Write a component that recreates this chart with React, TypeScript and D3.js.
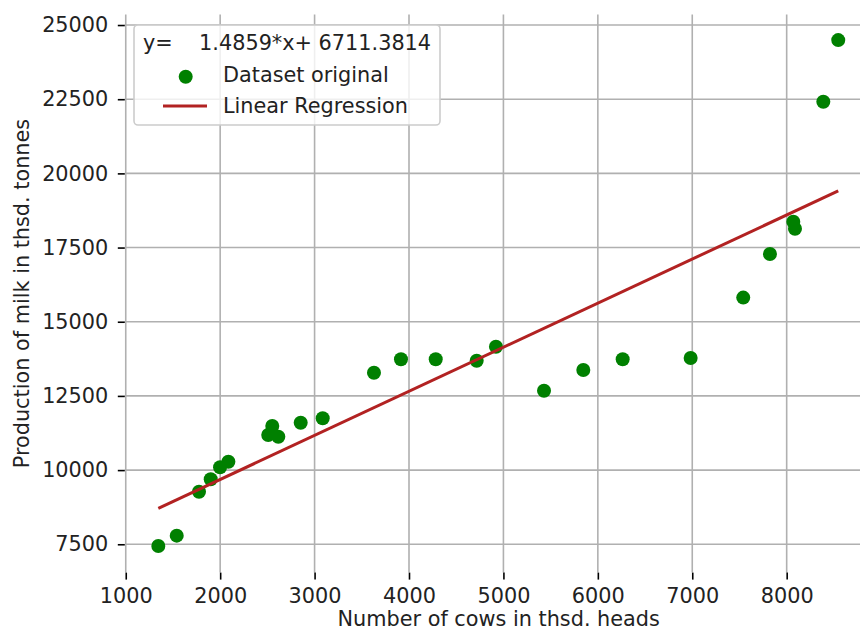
import { useEffect, useRef } from 'react';
import * as d3 from 'd3';

// number of cows (thsd. heads)
const cows = [
  1345, 1540, 1776, 1900, 1999, 2087, 2509, 2552, 2616, 2853, 3086, 3629, 3915,
  4283, 4717, 4921, 5430, 5846, 6263, 6983, 7540, 7823, 8070, 8088, 8388, 8546,
];
// production of milk (thsd. tonnes)
const milk = [
  7440, 7790, 9270, 9690, 10095, 10283, 11183, 11486, 11126, 11598, 11746, 13283, 13734,
  13734, 13687, 14159, 12676, 13373, 13734, 13778, 15813, 17282, 18370, 18135, 22415, 24493,
];

const slope = 1.4859;
const intercept = 6711.3814;

const xTicks = [1000, 2000, 3000, 4000, 5000, 6000, 7000, 8000];
const yTicks = [7500, 10000, 12500, 15000, 17500, 20000, 22500, 25000];

const legendTitle = 'y=    1.4859*x+ 6711.3814';
const legendLabels = ['Dataset original', 'Linear Regression'];

const FONT = '"DejaVu Sans", sans-serif';
const FS = 20.8;

const Chart = ({ width = 860, height = 632 }) => {
  const svgRef = useRef<SVGSVGElement | null>(null);

  useEffect(() => {
    const svg = d3.select(svgRef.current);
    svg.selectAll('*').remove();

    const left = 124.8;
    const right = 872.6;
    const top = 14.5;
    const bottom = 572.6;

    const x = d3.scaleLinear().domain([990, 8910]).range([left, right]);
    const y = d3.scaleLinear().domain([6545, 25355]).range([bottom, top]);

    const points = cows.map((c, i) => ({ x: c, y: milk[i] }));

    // grid
    const grid = svg.append('g');
    grid.selectAll('.vgrid')
      .data(xTicks)
      .enter()
      .append('line')
      .attr('x1', d => x(d))
      .attr('x2', d => x(d))
      .attr('y1', top)
      .attr('y2', bottom)
      .attr('stroke', '#b0b0b0')
      .attr('stroke-width', 1.6);
    grid.selectAll('.hgrid')
      .data(yTicks)
      .enter()
      .append('line')
      .attr('x1', left)
      .attr('x2', right)
      .attr('y1', d => y(d))
      .attr('y2', d => y(d))
      .attr('stroke', '#b0b0b0')
      .attr('stroke-width', 1.6);

    // scatter
    svg.append('g')
      .selectAll('circle')
      .data(points)
      .enter()
      .append('circle')
      .attr('cx', d => x(d.x))
      .attr('cy', d => y(d.y))
      .attr('r', 7)
      .attr('fill', 'green');

    // regression line
    const [xmin, xmax] = d3.extent(cows) as [number, number];
    const line = d3.line<number>()
      .x(d => x(d))
      .y(d => y(slope * d + intercept));
    svg.append('path')
      .datum([xmin, xmax])
      .attr('d', line)
      .attr('fill', 'none')
      .attr('stroke', '#b22222')
      .attr('stroke-width', 3);

    // axes
    const xAxis = svg.append('g')
      .attr('transform', `translate(0,${bottom})`)
      .call(d3.axisBottom(x).tickValues(xTicks).tickSizeInner(7).tickSizeOuter(0).tickPadding(8.6).tickFormat(d3.format('d')));
    const yAxis = svg.append('g')
      .attr('transform', `translate(${left},0)`)
      .call(d3.axisLeft(y).tickValues(yTicks).tickSizeInner(7).tickSizeOuter(0).tickPadding(9.5).tickFormat(d3.format('d')));

    [xAxis, yAxis].forEach(a => {
      a.select('.domain').remove();
      a.selectAll('.tick line').attr('stroke', '#000').attr('stroke-width', 1.6);
      a.selectAll('.tick text')
        .style('font-family', FONT)
        .style('font-size', `${FS}px`)
        .attr('fill', '#222');
    });

    // axis labels
    svg.append('text')
      .attr('x', (left + right) / 2)
      .attr('y', 626)
      .attr('text-anchor', 'middle')
      .style('font-family', FONT)
      .style('font-size', `${FS}px`)
      .attr('fill', '#222')
      .text('Number of cows in thsd. heads');

    svg.append('text')
      .attr('transform', `translate(29,${(top + bottom) / 2}) rotate(-90)`)
      .attr('text-anchor', 'middle')
      .style('font-family', FONT)
      .style('font-size', `${FS}px`)
      .attr('fill', '#222')
      .text('Production of milk in thsd. tonnes');

    // legend
    const lg = svg.append('g');
    lg.append('rect')
      .attr('x', 134)
      .attr('y', 25)
      .attr('width', 306)
      .attr('height', 100)
      .attr('rx', 4)
      .attr('fill', 'white')
      .attr('fill-opacity', 0.8)
      .attr('stroke', '#cccccc')
      .attr('stroke-width', 1.6);
    lg.append('text')
      .attr('x', 287)
      .attr('y', 50)
      .attr('text-anchor', 'middle')
      .style('font-family', FONT)
      .style('font-size', `${FS}px`)
      .style('white-space', 'pre')
      .attr('fill', '#222')
      .text(legendTitle);
    lg.append('circle')
      .attr('cx', 185.7)
      .attr('cy', 76.7)
      .attr('r', 7)
      .attr('fill', 'green');
    lg.append('line')
      .attr('x1', 163)
      .attr('x2', 207)
      .attr('y1', 106)
      .attr('y2', 106)
      .attr('stroke', '#b22222')
      .attr('stroke-width', 3);
    lg.selectAll('.lbl')
      .data(legendLabels)
      .enter()
      .append('text')
      .attr('x', 223)
      .attr('y', (d, i) => 82 + i * 31)
      .style('font-family', FONT)
      .style('font-size', `${FS}px`)
      .attr('fill', '#222')
      .text(d => d);
  }, [width, height]);

  return (
    <svg
      ref={svgRef}
      width={width}
      height={height}
      style={{ position: 'absolute', left: 0, top: 0, background: 'white' }}
    />
  );
};

export default function App() {
  return <Chart />;
}
